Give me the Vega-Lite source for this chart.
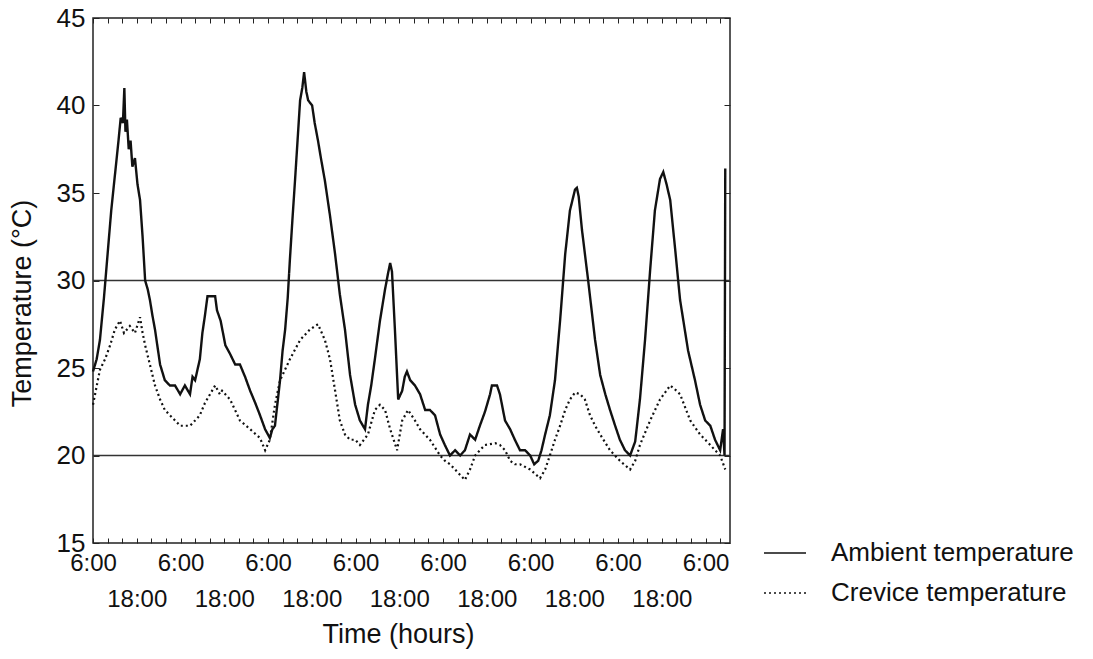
{
  "$schema": "https://vega.github.io/schema/vega-lite/v6.json",
  "width": 637,
  "height": 525,
  "autosize": "none",
  "padding": {"left": 93, "top": 18, "right": 363, "bottom": 116},
  "background": "white",
  "config": {
    "font": "Liberation Sans",
    "view": {"stroke": "#222", "strokeWidth": 1.5},
    "axis": {"domain": false, "grid": false, "tickColor": "#222", "tickWidth": 1, "labelFontSize": 24, "labelColor": "#111", "titleFontSize": 27, "titleFontWeight": "normal", "titleColor": "#111"},
    "legend": {"labelFontSize": 26, "labelColor": "#111", "labelLimit": 500}
  },
  "datasets": {
    "ambient": [
      {"h": 0, "t": 24.8}, {"h": 1.0, "t": 25.5}, {"h": 1.9, "t": 26.6}, {"h": 3, "t": 29}, {"h": 4, "t": 31.5}, {"h": 5, "t": 34}, {"h": 6, "t": 36}, {"h": 7, "t": 38}, {"h": 7.6, "t": 39.3}, {"h": 8.2, "t": 39.0}, {"h": 8.6, "t": 41.0}, {"h": 8.9, "t": 38.5}, {"h": 9.3, "t": 39.2}, {"h": 9.8, "t": 37.5}, {"h": 10.3, "t": 38}, {"h": 10.8, "t": 36.5}, {"h": 11.5, "t": 37}, {"h": 12.2, "t": 35.5}, {"h": 12.9, "t": 34.6}, {"h": 13.6, "t": 32.5}, {"h": 14.3, "t": 30.0}, {"h": 15.0, "t": 29.5}, {"h": 15.6, "t": 28.9}, {"h": 16.3, "t": 28}, {"h": 17.0, "t": 27.2}, {"h": 18.4, "t": 25.2}, {"h": 19.7, "t": 24.3}, {"h": 21.1, "t": 24.0}, {"h": 22.5, "t": 24.0}, {"h": 23.9, "t": 23.5}, {"h": 25.2, "t": 24.0}, {"h": 26.6, "t": 23.5}, {"h": 27.3, "t": 24.5}, {"h": 28.0, "t": 24.3}, {"h": 29.3, "t": 25.5}, {"h": 30.0, "t": 27}, {"h": 30.7, "t": 28.0}, {"h": 31.4, "t": 29.1}, {"h": 33.5, "t": 29.1}, {"h": 34.0, "t": 28.3}, {"h": 35.0, "t": 27.7}, {"h": 36.3, "t": 26.3}, {"h": 37.6, "t": 25.8}, {"h": 39.0, "t": 25.2}, {"h": 40.3, "t": 25.2}, {"h": 41.7, "t": 24.5}, {"h": 43.1, "t": 23.7}, {"h": 44.5, "t": 23.0}, {"h": 45.8, "t": 22.3}, {"h": 47.2, "t": 21.5}, {"h": 48.5, "t": 21.0}, {"h": 49.2, "t": 21.5}, {"h": 49.9, "t": 21.7}, {"h": 50.6, "t": 23}, {"h": 51.3, "t": 24.3}, {"h": 52.0, "t": 26}, {"h": 52.7, "t": 27.2}, {"h": 53.4, "t": 29}, {"h": 54.0, "t": 31.2}, {"h": 54.7, "t": 33.5}, {"h": 55.4, "t": 35.7}, {"h": 56.1, "t": 38}, {"h": 56.8, "t": 40.3}, {"h": 57.4, "t": 41.0}, {"h": 57.9, "t": 41.9}, {"h": 58.5, "t": 40.8}, {"h": 59.0, "t": 40.3}, {"h": 60.1, "t": 40.0}, {"h": 60.8, "t": 39}, {"h": 61.7, "t": 38.0}, {"h": 62.5, "t": 37}, {"h": 63.6, "t": 35.7}, {"h": 65.0, "t": 33.7}, {"h": 66.4, "t": 31.5}, {"h": 67.7, "t": 29.2}, {"h": 69.1, "t": 27.2}, {"h": 70.5, "t": 24.6}, {"h": 71.9, "t": 22.9}, {"h": 73.2, "t": 22.0}, {"h": 74.6, "t": 21.5}, {"h": 75.4, "t": 22.9}, {"h": 76.3, "t": 24}, {"h": 77.3, "t": 25.5}, {"h": 78.7, "t": 27.7}, {"h": 80.1, "t": 29.5}, {"h": 81.0, "t": 30.5}, {"h": 81.5, "t": 31.0}, {"h": 82.0, "t": 30.5}, {"h": 82.8, "t": 27.2}, {"h": 83.7, "t": 23.2}, {"h": 84.8, "t": 23.7}, {"h": 85.5, "t": 24.5}, {"h": 86.1, "t": 24.8}, {"h": 87.0, "t": 24.3}, {"h": 88.3, "t": 24.0}, {"h": 89.7, "t": 23.5}, {"h": 91.1, "t": 22.6}, {"h": 92.4, "t": 22.6}, {"h": 93.8, "t": 22.3}, {"h": 95.2, "t": 21.2}, {"h": 96.5, "t": 20.6}, {"h": 97.9, "t": 20.0}, {"h": 99.3, "t": 20.3}, {"h": 100.7, "t": 20.0}, {"h": 102.0, "t": 20.3}, {"h": 103.4, "t": 21.2}, {"h": 104.8, "t": 20.9}, {"h": 106.1, "t": 21.7}, {"h": 107.5, "t": 22.5}, {"h": 108.9, "t": 23.5}, {"h": 109.4, "t": 24.0}, {"h": 110.8, "t": 24.0}, {"h": 111.6, "t": 23.5}, {"h": 113.0, "t": 22.0}, {"h": 114.4, "t": 21.5}, {"h": 115.7, "t": 20.9}, {"h": 117.1, "t": 20.3}, {"h": 118.5, "t": 20.3}, {"h": 119.9, "t": 20.0}, {"h": 121.0, "t": 19.5}, {"h": 122.1, "t": 19.7}, {"h": 123.0, "t": 20.3}, {"h": 124.0, "t": 21.2}, {"h": 125.3, "t": 22.3}, {"h": 126.7, "t": 24.3}, {"h": 128.1, "t": 27.7}, {"h": 129.5, "t": 31.5}, {"h": 130.8, "t": 34.0}, {"h": 132.2, "t": 35.2}, {"h": 132.7, "t": 35.3}, {"h": 133.2, "t": 34.8}, {"h": 134.1, "t": 32.9}, {"h": 135.8, "t": 30.0}, {"h": 137.7, "t": 26.6}, {"h": 139.1, "t": 24.6}, {"h": 140.5, "t": 23.5}, {"h": 141.8, "t": 22.6}, {"h": 143.2, "t": 21.7}, {"h": 144.5, "t": 20.9}, {"h": 145.9, "t": 20.3}, {"h": 147.3, "t": 20.0}, {"h": 148.7, "t": 20.8}, {"h": 150.0, "t": 23.2}, {"h": 151.4, "t": 26.6}, {"h": 152.8, "t": 30.6}, {"h": 154.1, "t": 34.0}, {"h": 155.5, "t": 35.8}, {"h": 156.4, "t": 36.2}, {"h": 157.3, "t": 35.5}, {"h": 158.3, "t": 34.6}, {"h": 159.7, "t": 31.7}, {"h": 161.0, "t": 28.9}, {"h": 163.2, "t": 26.0}, {"h": 165.1, "t": 24.3}, {"h": 166.5, "t": 22.9}, {"h": 167.9, "t": 22.0}, {"h": 169.3, "t": 21.7}, {"h": 170.6, "t": 20.9}, {"h": 172.0, "t": 20.3}, {"h": 172.8, "t": 21.5}, {"h": 173.2, "t": 20.0}, {"h": 173.4, "t": 36.4}
    ],
    "crevice": [
      {"h": 0, "t": 22.9}, {"h": 1.9, "t": 24.9}, {"h": 3.3, "t": 25.5}, {"h": 4.7, "t": 26.3}, {"h": 6.0, "t": 27.2}, {"h": 7.4, "t": 27.7}, {"h": 8.5, "t": 27.0}, {"h": 10.1, "t": 27.4}, {"h": 11.5, "t": 27.0}, {"h": 12.9, "t": 27.9}, {"h": 13.6, "t": 27.0}, {"h": 14.3, "t": 26.3}, {"h": 15.6, "t": 25.2}, {"h": 17.0, "t": 24.0}, {"h": 18.4, "t": 23.2}, {"h": 19.7, "t": 22.6}, {"h": 21.1, "t": 22.3}, {"h": 23.9, "t": 21.7}, {"h": 26.6, "t": 21.7}, {"h": 28.0, "t": 22.0}, {"h": 29.3, "t": 22.3}, {"h": 30.7, "t": 23.0}, {"h": 32.1, "t": 23.5}, {"h": 33.5, "t": 24.0}, {"h": 34.8, "t": 23.5}, {"h": 35.4, "t": 23.7}, {"h": 37.6, "t": 23.2}, {"h": 40.3, "t": 22.0}, {"h": 43.1, "t": 21.5}, {"h": 45.8, "t": 21.0}, {"h": 47.2, "t": 20.3}, {"h": 48.5, "t": 20.9}, {"h": 49.9, "t": 22.9}, {"h": 51.3, "t": 24.3}, {"h": 54.0, "t": 25.5}, {"h": 56.8, "t": 26.6}, {"h": 59.5, "t": 27.2}, {"h": 61.7, "t": 27.5}, {"h": 63.6, "t": 26.6}, {"h": 65.0, "t": 25.5}, {"h": 66.4, "t": 23.7}, {"h": 67.7, "t": 22.0}, {"h": 69.1, "t": 21.2}, {"h": 70.5, "t": 20.9}, {"h": 71.9, "t": 20.9}, {"h": 73.2, "t": 20.6}, {"h": 75.4, "t": 21.2}, {"h": 77.3, "t": 22.6}, {"h": 78.7, "t": 22.9}, {"h": 80.1, "t": 22.6}, {"h": 81.5, "t": 21.5}, {"h": 83.4, "t": 20.3}, {"h": 84.8, "t": 22.0}, {"h": 86.4, "t": 22.6}, {"h": 88.3, "t": 22.0}, {"h": 89.7, "t": 21.5}, {"h": 92.4, "t": 20.9}, {"h": 95.2, "t": 20.0}, {"h": 96.5, "t": 19.7}, {"h": 97.9, "t": 19.5}, {"h": 99.3, "t": 19.2}, {"h": 102.0, "t": 18.6}, {"h": 103.4, "t": 19.2}, {"h": 104.8, "t": 20.0}, {"h": 106.1, "t": 20.3}, {"h": 107.5, "t": 20.6}, {"h": 110.3, "t": 20.7}, {"h": 111.6, "t": 20.6}, {"h": 113.0, "t": 20.3}, {"h": 114.4, "t": 19.7}, {"h": 115.7, "t": 19.5}, {"h": 117.1, "t": 19.5}, {"h": 119.9, "t": 19.2}, {"h": 122.6, "t": 18.7}, {"h": 124.0, "t": 19.2}, {"h": 125.3, "t": 20.0}, {"h": 126.7, "t": 20.9}, {"h": 128.1, "t": 21.7}, {"h": 129.5, "t": 22.6}, {"h": 130.8, "t": 23.2}, {"h": 132.2, "t": 23.6}, {"h": 133.6, "t": 23.5}, {"h": 134.9, "t": 23.2}, {"h": 136.3, "t": 22.3}, {"h": 137.7, "t": 21.7}, {"h": 139.1, "t": 21.2}, {"h": 141.8, "t": 20.3}, {"h": 144.5, "t": 19.7}, {"h": 147.3, "t": 19.2}, {"h": 148.7, "t": 19.7}, {"h": 150.0, "t": 20.6}, {"h": 152.8, "t": 22.0}, {"h": 155.5, "t": 23.2}, {"h": 158.3, "t": 24.0}, {"h": 159.5, "t": 23.8}, {"h": 161.0, "t": 23.5}, {"h": 163.8, "t": 22.0}, {"h": 166.5, "t": 21.2}, {"h": 169.3, "t": 20.6}, {"h": 170.6, "t": 20.3}, {"h": 172.0, "t": 20.0}, {"h": 173.4, "t": 19.2}
    ],
    "refs": [{"ref": 30}, {"ref": 20}]
  },
  "layer": [
    {
      "data": {"name": "refs"},
      "mark": {"type": "rule", "color": "#333", "strokeWidth": 1.5},
      "encoding": {"y": {"field": "ref", "type": "quantitative", "scale": {"domain": [15, 45], "nice": false}, "axis": null}}
    },
    {
      "data": {"name": "ambient"},
      "mark": {"type": "line", "color": "#111", "strokeWidth": 2.4},
      "encoding": {
        "x": {"field": "h", "type": "quantitative", "scale": {"domain": [0, 174.7], "nice": false, "zero": false},
          "axis": {"orient": "bottom", "values": [0,4,8,12,16,20,24,28,32,36,40,44,48,52,56,60,64,68,72,76,80,84,88,92,96,100,104,108,112,116,120,124,128,132,136,140,144,148,152,156,160,164,168,172],
            "labelExpr": "datum.value % 24 == 0 ? '6:00' : (datum.value % 24 == 12 ? '18:00' : '')",
            "labelPadding": {"expr": "datum.value % 24 == 12 ? 49 : 13"},
            "labelFlush": false, "labelOverlap": false, "labelBaseline": "top", "tickSize": -5, "title": "Time (hours)", "titlePadding": 10, "titleX": 305, "titleAlign": "center"}},
        "y": {"field": "t", "type": "quantitative", "scale": {"domain": [15, 45], "nice": false, "zero": false},
          "axis": {"orient": "left", "values": [15,20,25,30,35,40,45], "tickSize": -6, "labelPadding": 14, "labelFontSize": 26, "labelFlush": false, "title": "Temperature (°C)", "titlePadding": 20, "titleY": 285, "titleAlign": "center"}},
        "strokeDash": {"datum": "Ambient temperature", "type": "nominal",
          "scale": {"domain": ["Ambient temperature", "Crevice temperature"], "range": [[1, 0], [2, 3]]},
          "legend": {"orient": "none", "legendX": 670, "legendY": 513, "title": null, "symbolType": "stroke", "symbolSize": 1764, "symbolStrokeWidth": 1.5, "symbolStrokeColor": "#111", "labelOffset": 24, "rowPadding": 5}}
      }
    },
    {
      "data": {"name": "crevice"},
      "mark": {"type": "line", "color": "#111", "strokeWidth": 2.2},
      "encoding": {
        "x": {"field": "h", "type": "quantitative",
          "axis": {"orient": "top", "values": [0,4,8,12,16,20,24,28,32,36,40,44,48,52,56,60,64,68,72,76,80,84,88,92,96,100,104,108,112,116,120,124,128,132,136,140,144,148,152,156,160,164,168,172], "labels": false, "tickSize": -5, "title": null}},
        "y": {"field": "t", "type": "quantitative",
          "axis": {"orient": "right", "values": [15,20,25,30,35,40,45], "labels": false, "tickSize": -6, "title": null}},
        "strokeDash": {"datum": "Crevice temperature", "type": "nominal"}
      }
    }
  ],
  "resolve": {"axis": {"x": "independent", "y": "independent"}}
}
